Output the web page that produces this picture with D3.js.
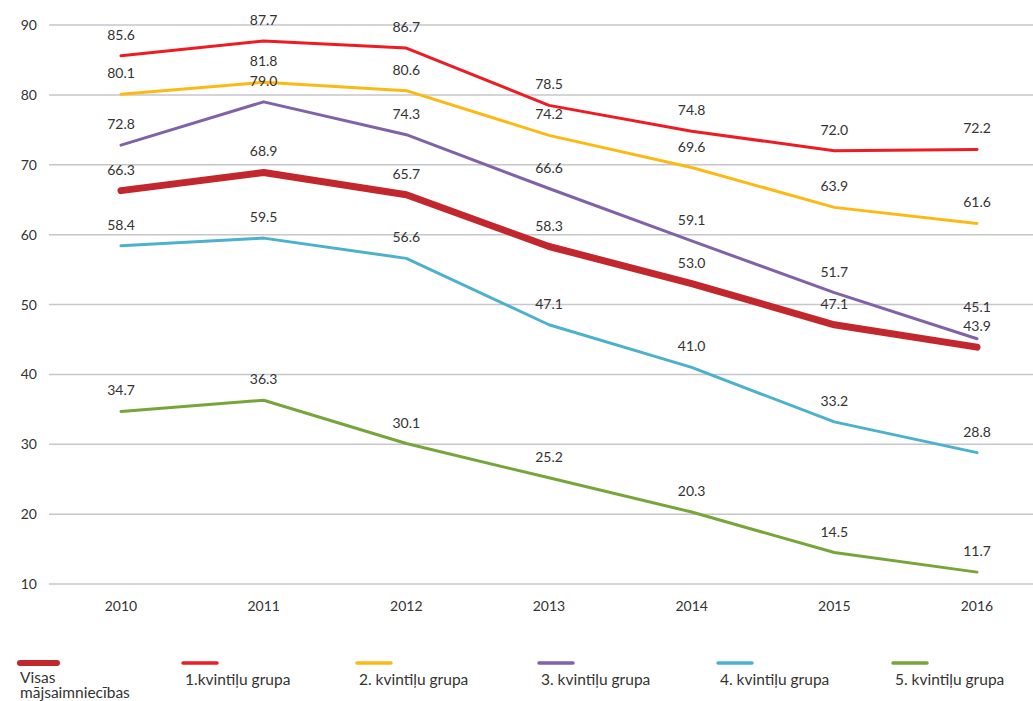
<!DOCTYPE html>
<html>
<head>
<meta charset="utf-8">
<script src="https://cdn.jsdelivr.net/npm/d3@7"></script>
<style>
  body { margin: 0; background: #fff; }
  svg text { font-family: Lato, "Open Sans", sans-serif; fill: #333; }
</style>
</head>
<body>
<svg id="chart" width="1033" height="701"></svg>
<script>
const years = [2010, 2011, 2012, 2013, 2014, 2015, 2016];
const yTicks = [10, 20, 30, 40, 50, 60, 70, 80, 90];

const seriesNames = ["Visas mājsaimniecības", "1.kvintiļu grupa", "2. kvintiļu grupa", "3. kvintiļu grupa", "4. kvintiļu grupa", "5. kvintiļu grupa"];
const visas = [66.3, 68.9, 65.7, 58.3, 53.0, 47.1, 43.9];
const q1 = [85.6, 87.7, 86.7, 78.5, 74.8, 72.0, 72.2];
const q2 = [80.1, 81.8, 80.6, 74.2, 69.6, 63.9, 61.6];
const q3 = [72.8, 79.0, 74.3, 66.6, 59.1, 51.7, 45.1];
const q4 = [58.4, 59.5, 56.6, 47.1, 41.0, 33.2, 28.8];
const q5 = [34.7, 36.3, 30.1, 25.2, 20.3, 14.5, 11.7];

const colors = ["#c1272d", "#ed1c24", "#fdb913", "#8062a8", "#4cb1cc", "#77a53a"];
const widths = [7, 3, 3, 3, 3, 3];
const allSeries = [visas, q1, q2, q3, q4, q5];

const svg = d3.select("#chart");

// Scales
const x = d3.scalePoint().domain(years).range([121, 977]);
const y = d3.scaleLinear().domain([10, 90]).range([584, 25]);

// Grid lines
svg.append("g")
    .selectAll("line")
    .data(yTicks)
    .enter().append("line")
    .attr("x1", 49)
    .attr("x2", 1033)
    .attr("y1", d => y(d))
    .attr("y2", d => y(d))
    .style("stroke", "#c6c6cc")
    .style("stroke-width", 1.5);

// Y tick labels
svg.append("g")
    .selectAll("text")
    .data(yTicks)
    .enter().append("text")
    .attr("x", 37)
    .attr("y", d => y(d) + 5)
    .attr("text-anchor", "end")
    .style("font-size", "14px")
    .text(d => d);

// X labels
svg.append("g")
    .selectAll("text")
    .data(years)
    .enter().append("text")
    .attr("x", d => x(d))
    .attr("y", 611)
    .attr("text-anchor", "middle")
    .style("font-size", "14px")
    .text(d => d);

// Lines, drawn back to front so the thick total line sits on top
const line = d3.line()
    .x((d, i) => x(years[i]))
    .y(d => y(d));

const order = [5, 4, 3, 2, 1, 0];
order.forEach(s => {
    svg.append("path")
        .datum(allSeries[s])
        .attr("d", line)
        .style("fill", "none")
        .style("stroke", colors[s])
        .style("stroke-width", widths[s])
        .style("stroke-linecap", "round")
        .style("stroke-linejoin", "round");
});

// Value labels: place above the point, then nudge up any label that
// would sit on top of the one below it in the same year
const labels = [];
allSeries.forEach((vals, s) => {
    vals.forEach((v, i) => {
        labels.push({ v: v, i: i, ly: y(v) - 16 });
    });
});
years.forEach((yr, i) => {
    const col = labels.filter(l => l.i === i).sort((a, b) => b.ly - a.ly);
    for (let k = 1; k < col.length; k++) {
        if (col[k - 1].ly - col[k].ly < 16) col[k].ly = col[k - 1].ly - 19;
    }
});

svg.append("g")
    .selectAll("text")
    .data(labels)
    .enter().append("text")
    .attr("x", d => x(years[d.i]))
    .attr("y", d => d.ly)
    .attr("text-anchor", "middle")
    .style("font-size", "14px")
    .text(d => d.v.toFixed(1));

// Legend
const legendX = [20, 183, 357, 539, 718, 893];
const legend = svg.append("g")
    .selectAll("g")
    .data(seriesNames)
    .enter().append("g")
    .attr("transform", (d, i) => `translate(${legendX[i]},663)`);

legend.append("line")
    .attr("x1", 0)
    .attr("x2", (d, i) => i === 0 ? 37 : 34)
    .attr("y1", 0)
    .attr("y2", 0)
    .style("stroke", (d, i) => colors[i])
    .style("stroke-width", (d, i) => i === 0 ? 6 : 3.5)
    .style("stroke-linecap", "round");

legend.append("text")
    .attr("x", (d, i) => i === 0 ? 0 : 2)
    .attr("y", (d, i) => i === 0 ? 20 : 22)
    .style("font-size", "15.5px")
    .each(function (d) {
        const t = d3.select(this);
        if (d.startsWith("Visas")) {
            const parts = d.split(" ");
            t.append("tspan").attr("x", 0).text(parts[0]);
            t.append("tspan").attr("x", 0).attr("dy", 14.5).text(parts[1]);
        } else {
            t.text(d);
        }
    });
</script>
</body>
</html>
